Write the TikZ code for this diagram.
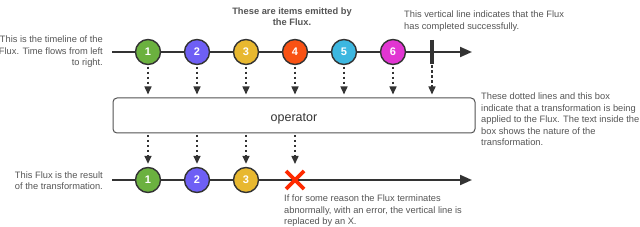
\documentclass[tikz,border=0pt]{standalone}
\usepackage{fontspec}
\setmainfont{Liberation Sans}
\usetikzlibrary{arrows.meta}
\definecolor{ink}{HTML}{333333}
\definecolor{txt}{HTML}{555555}
\definecolor{cA}{HTML}{6BB13F}
\definecolor{cB}{HTML}{6E5FF5}
\definecolor{cC}{HTML}{E8B830}
\definecolor{cD}{HTML}{F95214}
\definecolor{cE}{HTML}{3DB7E0}
\definecolor{cF}{HTML}{E136D2}
\definecolor{xred}{HTML}{FF2A00}
\begin{document}
\begin{tikzpicture}[x=1pt,y=-1pt,
  item/.style={circle,draw=ink,line width=1.4pt,minimum size=25pt,inner sep=0pt,text=white,font=\fontsize{11}{11}\selectfont\bfseries},
  timeline/.style={draw=ink,line width=2pt,-{Triangle[length=12pt,width=10pt]}},
  flow/.style={draw=ink,line width=1.5pt,dash pattern=on 2.5pt off 2.5pt,-{Triangle[length=8pt,width=7pt]},shorten >=3pt,shorten <=1.5pt},
  note/.style={text=txt,font=\fontsize{9.3}{11.5}\selectfont,inner sep=0pt},
  opbox/.style={draw=ink!85,line width=1pt,rounded corners=4pt,fill=white,minimum width=362pt,minimum height=35pt,text=ink,font=\fontsize{12.5}{13}\selectfont}
]
\useasboundingbox (0,0) rectangle (640,227);
% top timeline
\coordinate (ta) at (112,52);
\coordinate (tb) at (472,52);
\draw[timeline] (ta) -- (tb);
\node[item,fill=cA] (c1) at (148,52) {1};
\node[item,fill=cB] (c2) at (197,52) {2};
\node[item,fill=cC] (c3) at (246,52) {3};
\node[item,fill=cD] (c4) at (295,52) {4};
\node[item,fill=cE] (c5) at (344,52) {5};
\node[item,fill=cF] (c6) at (393,52) {6};
\coordinate (bt) at (432,40);
\coordinate (bb) at (432,64);
\draw[ink,line width=3.2pt] (bt) -- (bb);
% operator
\node[opbox,text depth=0pt,text height=12pt] (op) at (294,115.5) {operator};
\foreach \n in {c1,c2,c3,c4,c5,c6}{
  \draw[flow] (\n.south) -- (\n.south |- op.north);
}
\draw[flow] (bb) -- (bb |- op.north);
% bottom timeline
\coordinate (ua) at (112,180);
\coordinate (ub) at (472,180);
\draw[timeline] (ua) -- (ub);
\node[item,fill=cA] (d1) at (148,180) {1};
\node[item,fill=cB] (d2) at (197,180) {2};
\node[item,fill=cC] (d3) at (246,180) {3};
\coordinate (xc) at (295,180);
\coordinate (xtop) at (295,167);
\draw[xred,line width=3.6pt] ([shift={(-9,-9)}]xc) -- ([shift={(9,9)}]xc)
  ([shift={(-9,9)}]xc) -- ([shift={(9,-9)}]xc);
\foreach \n in {d1,d2,d3}{
  \draw[flow] (\n.north |- op.south) -- (\n.north);
}
\draw[flow] (xtop |- op.south) -- (xtop);
% notes
\node[note,align=right,anchor=east] (n1) at (103,52) {This is the timeline of the\\Flux. Time flows from left\\to right.};
\node[note,align=center,anchor=center,font=\fontsize{9.3}{11.5}\selectfont\bfseries] (n2) at (292,16.5) {These are items emitted by\\the Flux.};
\node[note,align=left,anchor=west] (n3) at (404,21) {This vertical line indicates that the Flux\\has completed successfully.};
\node[note,align=left,anchor=west] (n4) at (481,119.5) {These dotted lines and this box\\indicate that a transformation is being\\applied to the Flux. The text inside the\\box shows the nature of the\\transformation.};
\node[note,align=right,anchor=east] (n5) at (103,180.5) {This Flux is the result\\of the transformation.};
\node[note,align=left,anchor=west] (n6) at (284,211) {If for some reason the Flux terminates\\abnormally, with an error, the vertical line is\\replaced by an X.};
\end{tikzpicture}
\end{document}
